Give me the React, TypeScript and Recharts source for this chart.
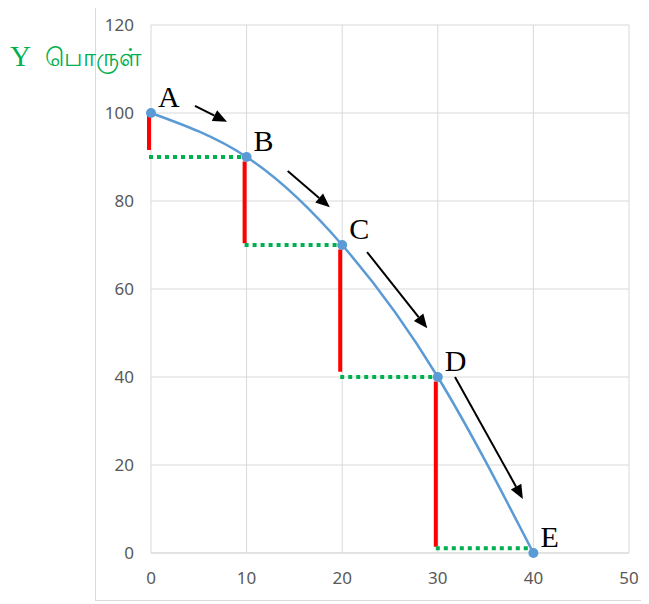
import { LineChart, Line, XAxis, YAxis, CartesianGrid, ReferenceLine, LabelList } from "recharts";

// points on the curve
const pointNames = ["A", "B", "C", "D", "E"];
const xGoods = [0, 10, 20, 30, 40];
const yGoods = [100, 90, 70, 40, 0];

// red drops (given up Y)
const dropX = [0, 10, 20, 30];
const dropTop = [99.5, 89, 69, 39];
const dropBottom = [91.6, 70.4, 41.2, 1.4];

// green dotted steps (gained X)
const stepY = [90, 70, 40, 1.1];
const stepFrom = [0, 10, 20, 30];
const stepTo = [10, 20, 30, 40];

// black arrows along the curve
const arrowFromX = [4.6, 14.3, 22.6, 31.8];
const arrowFromY = [101.6, 86.8, 68.4, 40.0];
const arrowToX = [7.95, 18.7, 28.9, 38.9];
const arrowToY = [98.0, 78.6, 51.1, 12.3];

const xTicks = [0, 10, 20, 30, 40, 50];
const yTicks = [0, 20, 40, 60, 80, 100, 120];

const curveData = xGoods.map((x, i) => ({ x, y: yGoods[i], name: pointNames[i] }));

const PointLabel = (props: any) => {
  const { x, y, value } = props;
  return (
    <text x={x + 7} y={y - 6} fontFamily="'Liberation Serif', serif" fontSize={30} fill="#000">
      {value}
    </text>
  );
};

const Arrow = (props: any) => {
  const { x1, y1, x2, y2 } = props;
  const ang = Math.atan2(y2 - y1, x2 - x1);
  const len = 14;
  const w = 6;
  const bx = x2 - len * Math.cos(ang);
  const by = y2 - len * Math.sin(ang);
  const px = -Math.sin(ang) * w;
  const py = Math.cos(ang) * w;
  return (
    <g>
      <line x1={x1} y1={y1} x2={bx} y2={by} stroke="#000" strokeWidth={2} />
      <polygon points={`${x2},${y2} ${bx + px},${by + py} ${bx - px},${by - py}`} fill="#000" />
    </g>
  );
};

const ShiftedLine = (props: any) => {
  const { x1, y1, x2, y2, stroke, strokeWidth, strokeDasharray } = props;
  return (
    <line
      x1={x1 - 2}
      y1={y1}
      x2={x2 - 2}
      y2={y2}
      stroke={stroke}
      strokeWidth={strokeWidth}
      strokeDasharray={strokeDasharray}
    />
  );
};

const tickStyle = { fill: "#595959", fontSize: 17, fontFamily: "'Noto Sans', sans-serif" };

export default function App() {
  return (
    <div
      style={{
        position: "relative",
        width: 641,
        height: 604,
        margin: "-8px 0 0 -8px",
        background: "#fff",
      }}
    >
      <div
        style={{
          position: "absolute",
          left: 95,
          top: 3,
          width: 546,
          height: 598,
          borderTop: "1px solid #d9d9d9",
          borderLeft: "1px solid #d9d9d9",
          borderBottom: "1px solid #d9d9d9",
          boxSizing: "border-box",
        }}
      />
      <LineChart
        width={641}
        height={604}
        data={curveData}
        margin={{ top: 25, right: 12, bottom: 21, left: 101 }}
        style={{ position: "absolute", left: 0, top: 0 }}
      >
        <CartesianGrid stroke="#d9d9d9" />
        <XAxis
          dataKey="x"
          type="number"
          domain={[0, 50]}
          ticks={xTicks}
          tickLine={false}
          axisLine={{ stroke: "#d9d9d9" }}
          tick={tickStyle}
          tickMargin={13}
          height={30}
        />
        <YAxis
          type="number"
          domain={[0, 120]}
          ticks={yTicks}
          tickLine={false}
          axisLine={false}
          tick={tickStyle}
          tickMargin={11}
          width={50}
        />
        {dropX.map((x, i) => (
          <ReferenceLine
            key={"r" + i}
            segment={[
              { x, y: dropTop[i] },
              { x, y: dropBottom[i] },
            ]}
            stroke="#ff0000"
            strokeWidth={4}
            ifOverflow="visible"
            shape={ShiftedLine}
          />
        ))}
        {stepY.map((y, i) => (
          <ReferenceLine
            key={"g" + i}
            segment={[
              { x: stepFrom[i], y },
              { x: stepTo[i], y },
            ]}
            stroke="#00b050"
            strokeWidth={4}
            strokeDasharray="4 4"
            ifOverflow="visible"
            shape={ShiftedLine}
          />
        ))}
        {arrowFromX.map((x, i) => (
          <ReferenceLine
            key={"a" + i}
            segment={[
              { x, y: arrowFromY[i] },
              { x: arrowToX[i], y: arrowToY[i] },
            ]}
            ifOverflow="visible"
            shape={Arrow}
          />
        ))}
        <Line
          dataKey="y"
          type="natural"
          stroke="#5b9bd5"
          strokeWidth={2.5}
          dot={{ r: 5, fill: "#5b9bd5", stroke: "none" }}
          activeDot={false}
          isAnimationActive={false}
        >
          <LabelList dataKey="name" content={PointLabel} />
        </Line>
      </LineChart>
      <div
        style={{
          position: "absolute",
          left: 10,
          top: 40,
          color: "#00b050",
          fontFamily: "'Liberation Serif', serif",
          fontSize: 29,
          whiteSpace: "nowrap",
        }}
      >
        Y&nbsp;&nbsp;<span style={{ fontSize: 25 }}>பொருள்</span>
      </div>
    </div>
  );
}
